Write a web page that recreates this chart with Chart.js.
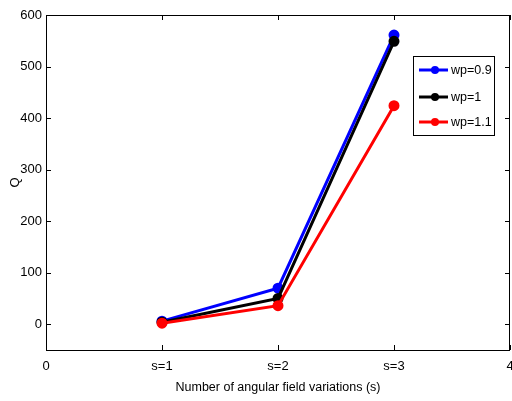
<!DOCTYPE html>
<html>
<head>
<meta charset="utf-8">
<script src="https://cdn.jsdelivr.net/npm/chart.js@4/dist/chart.umd.min.js"></script>
<style>
  html, body { margin: 0; padding: 0; background: #fff; }
  #wrap { width: 512px; height: 401px; }
</style>
</head>
<body>
<div id="wrap"><canvas id="myChart" width="512" height="401"></canvas></div>
<script>
const xValues = [1, 2, 3]
const xTickValues = [0, 1, 2, 3, 4]
const xTickLabels = ["0", "s=1", "s=2", "s=3", "4"]
const yTickValues = [0, 100, 200, 300, 400, 500, 600]
const seriesNames = ["wp=0.9", "wp=1", "wp=1.1"]
const q09 = [6, 70, 561]
const q10 = [4, 50, 549]
const q11 = [2, 36, 424]
const colores = ["#0000ff", "#000000", "#ff0000"]

const fuente = "'Liberation Sans Narrow', 'Arial Narrow', 'Liberation Sans', Arial, sans-serif"
const ctx = document.querySelector("#myChart")

const toPoints = (vals) => vals.map((v, i) => ({ x: xValues[i], y: v }))

// caja tipo matlab con ticks hacia adentro
const cajaPlugin = {
    id: "caja",
    afterDraw(chart) {
        const c = chart.ctx
        const a = chart.chartArea
        const sx = chart.scales.x
        const sy = chart.scales.y
        c.save()
        c.strokeStyle = "#000"
        c.lineWidth = 1
        c.strokeRect(a.left + 0.5, a.top + 0.5, a.right - a.left - 1, a.bottom - a.top)
        c.beginPath()
        xTickValues.forEach(v => {
            const px = Math.round(sx.getPixelForValue(v)) + 0.5
            c.moveTo(px, a.bottom); c.lineTo(px, a.bottom - 5)
            c.moveTo(px, a.top); c.lineTo(px, a.top + 5)
        })
        yTickValues.forEach(v => {
            const py = Math.round(sy.getPixelForValue(v)) + 0.5
            c.moveTo(a.left, py); c.lineTo(a.left + 5, py)
            c.moveTo(a.right, py); c.lineTo(a.right - 5, py)
        })
        c.stroke()

        // leyenda
        const lx = 413, ly = 56, lw = 81, lh = 79
        c.fillStyle = "#fff"
        c.fillRect(lx, ly, lw, lh)
        c.strokeRect(lx + 0.5, ly + 0.5, lw, lh)
        const filas = [70, 97, 122]
        chart.data.datasets.forEach((ds, i) => {
            const y = filas[i]
            c.strokeStyle = ds.borderColor
            c.lineWidth = 3
            c.beginPath()
            c.moveTo(419, y); c.lineTo(448, y)
            c.stroke()
            c.fillStyle = ds.borderColor
            c.beginPath()
            c.arc(435, y, 4, 0, Math.PI * 2)
            c.fill()
            c.fillStyle = "#000"
            c.font = "12.5px " + fuente
            c.textBaseline = "middle"
            c.textAlign = "left"
            c.fillText(ds.label, 451, y + 1)
        })
        c.restore()
    }
}

const series = [q09, q10, q11]

new Chart(ctx, {
    type: "line",
    data: {
        datasets: series.map((vals, i) => ({
            label: seriesNames[i],
            data: toPoints(vals),
            borderColor: colores[i],
            backgroundColor: colores[i],
            borderWidth: 3,
            pointRadius: 4,
            pointHoverRadius: 4,
            tension: 0,
            order: 2 - i,
        })),
    },
    options: {
        responsive: false,
        animation: false,
        events: [],
        layout: { autoPadding: false, padding: { left: 0, right: 2, top: 15, bottom: 0 } },
        plugins: {
            legend: { display: false },
            tooltip: { enabled: false },
        },
        scales: {
            x: {
                type: "linear",
                min: 0,
                max: 4,
                afterBuildTicks: (s) => { s.ticks = xTickValues.map(v => ({ value: v })) },
                afterFit: (s) => { s.height = 51; s.paddingLeft = 0; s.paddingRight = 0 },
                grid: { display: false, drawTicks: false },
                border: { display: false },
                ticks: {
                    callback: (v) => xTickLabels[xTickValues.indexOf(v)],
                    color: "#000",
                    font: { family: fuente, size: 13 },
                    padding: 9,
                    maxRotation: 0,
                    autoSkip: false,
                },
                title: {
                    display: true,
                    text: "Number of angular field variations (s)",
                    color: "#000",
                    font: { family: fuente, size: 12.5 },
                    padding: { top: 0, bottom: 6 },
                },
            },
            y: {
                min: -50,
                max: 600,
                afterBuildTicks: (s) => { s.ticks = yTickValues.map(v => ({ value: v })) },
                afterFit: (s) => { s.width = 46; s.paddingTop = 0; s.paddingBottom = 0 },
                grid: { display: false, drawTicks: false },
                border: { display: false },
                ticks: {
                    color: "#000",
                    font: { family: fuente, size: 13 },
                    padding: 4,
                },
                title: {
                    display: true,
                    text: "Q",
                    color: "#000",
                    font: { family: fuente, size: 13 },
                    padding: { top: 8, bottom: 0 },
                },
            },
        },
    },
    plugins: [cajaPlugin],
})
</script>
</body>
</html>
